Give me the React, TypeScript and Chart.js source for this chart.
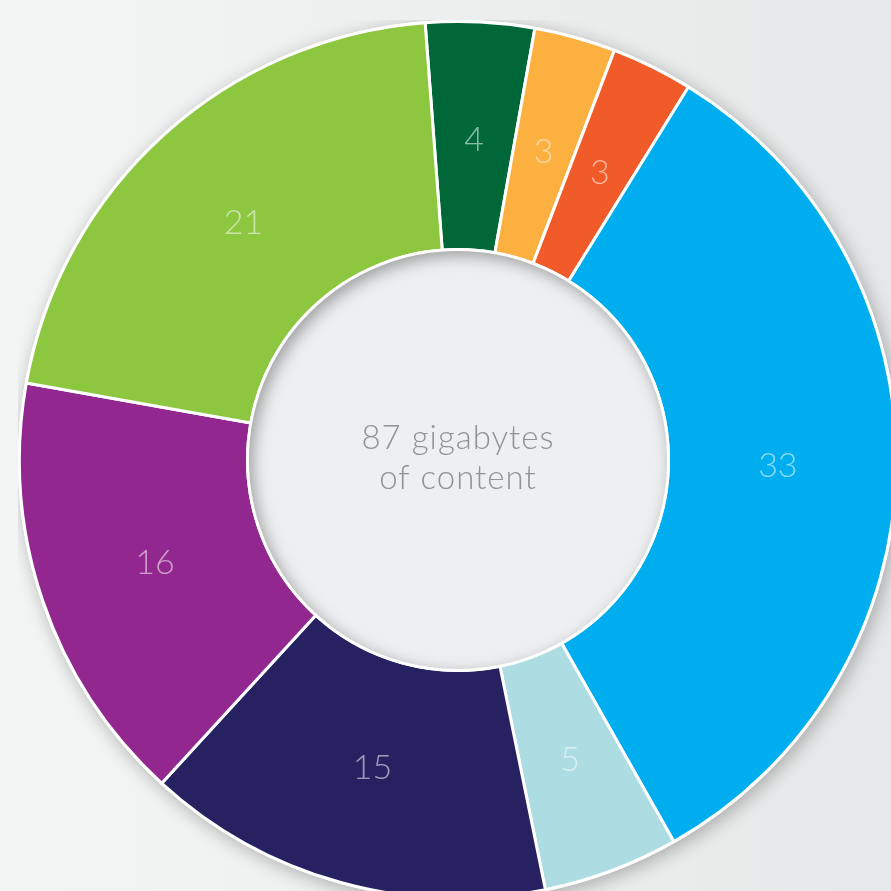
import React, { useEffect, useRef } from "react";
import { Chart, registerables } from "chart.js";

Chart.register(...registerables);

const categories = ["A", "B", "C", "D", "E", "F", "G", "H"];
const values = [4, 3, 3, 33, 5, 15, 16, 21];
const colors = ["#006838", "#FBB040", "#F15A29", "#00AEEF", "#ADDDE3", "#262262", "#92278F", "#8DC63F"];
const centerLines = ["87 gigabytes", "of content"];

const FONT = "Lato, 'Open Sans', sans-serif";

const shadowPlugin = {
  id: "ringShadow",
  beforeDatasetsDraw(chart: any) {
    const meta = chart.getDatasetMeta(0);
    const arc = meta.data[0];
    if (!arc) return;
    const { x, y, outerRadius } = arc.getProps(["x", "y", "outerRadius"], true);
    const ctx = chart.ctx;
    ctx.save();
    ctx.shadowColor = "rgba(0,0,0,0.28)";
    ctx.shadowBlur = 18;
    ctx.shadowOffsetX = 3;
    ctx.shadowOffsetY = 4;
    ctx.beginPath();
    ctx.arc(x, y, outerRadius + 1.5, 0, Math.PI * 2);
    ctx.fillStyle = "#ffffff";
    ctx.fill();
    ctx.restore();
  },
  afterDatasetsDraw(chart: any) {
    const meta = chart.getDatasetMeta(0);
    const ctx = chart.ctx;
    const first = meta.data[0];
    if (!first) return;
    const { x, y, innerRadius } = first.getProps(["x", "y", "innerRadius"], true);
    // inner hole
    ctx.save();
    ctx.beginPath();
    ctx.arc(x, y, innerRadius - 1, 0, Math.PI * 2);
    ctx.fillStyle = "#eeeff0";
    ctx.fill();
    ctx.clip();
    // inset shadow
    ctx.shadowColor = "rgba(0,0,0,0.35)";
    ctx.shadowBlur = 16;
    ctx.shadowOffsetX = 4;
    ctx.shadowOffsetY = 5;
    ctx.beginPath();
    ctx.arc(x, y, innerRadius + 60, 0, Math.PI * 2);
    ctx.arc(x, y, innerRadius - 1, 0, Math.PI * 2, true);
    ctx.fillStyle = "#000";
    ctx.fill();
    ctx.restore();
    // white rim
    ctx.save();
    ctx.beginPath();
    ctx.arc(x, y, innerRadius, 0, Math.PI * 2);
    ctx.strokeStyle = "#ffffff";
    ctx.lineWidth = 3;
    ctx.stroke();
    ctx.restore();

    // segment labels
    ctx.save();
    ctx.font = `300 34px ${FONT}`;
    ctx.textAlign = "center";
    ctx.textBaseline = "middle";
    meta.data.forEach((a: any, i: number) => {
      const p = a.getProps(["startAngle", "endAngle", "innerRadius", "outerRadius"], true);
      const mid = (p.startAngle + p.endAngle) / 2;
      const r = p.innerRadius + 0.48 * (p.outerRadius - p.innerRadius);
      ctx.fillStyle = "rgba(255,255,255,0.55)";
      ctx.fillText(String(values[i]), x + Math.cos(mid) * r, y + Math.sin(mid) * r);
    });
    // center text
    ctx.fillStyle = "#909294";
    ctx.font = `300 33px ${FONT}`;
    try {
      (ctx as any).letterSpacing = "1px";
    } catch (e) {}
    ctx.fillText(centerLines[0], x, y - 22);
    ctx.fillText(centerLines[1], x, y + 18);
    ctx.restore();
  },
};

export default function App() {
  const ref = useRef<HTMLCanvasElement>(null);
  useEffect(() => {
    if (!ref.current) return;
    const chart = new Chart(ref.current, {
      type: "doughnut",
      data: {
        labels: categories,
        datasets: [
          {
            data: values,
            backgroundColor: colors,
            borderColor: "#ffffff",
            borderWidth: 3,
            borderAlign: "center",
          },
        ],
      },
      options: {
        responsive: false,
        animation: false,
        rotation: -4.3,
        cutout: "48%",
        layout: { padding: 0 },
        plugins: {
          legend: { display: false },
          tooltip: { enabled: false },
        },
      },
      plugins: [shadowPlugin],
    });
    return () => chart.destroy();
  }, []);
  return (
    <div
      style={{
        position: "fixed",
        left: 0,
        top: 0,
        width: 891,
        height: 891,
        overflow: "hidden",
        background: "linear-gradient(90deg, #f3f4f4 0%, #eceded 60%, #e6e7e8 100%)",
      }}
    >
      <canvas
        ref={ref}
        width={880}
        height={880}
        style={{ position: "absolute", left: 18, top: 20, width: 880, height: 880 }}
      />
    </div>
  );
}
